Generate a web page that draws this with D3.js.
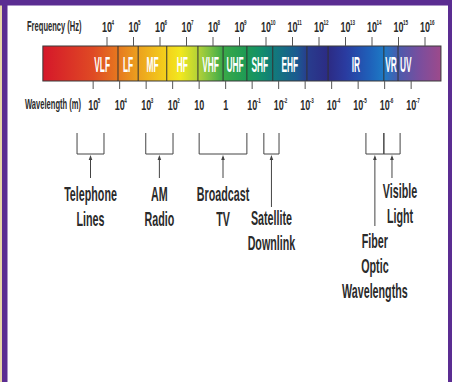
<!DOCTYPE html>
<html>
<head>
<meta charset="utf-8">
<script src="https://cdn.jsdelivr.net/npm/d3@7"></script>
<style>
body { margin: 0; background: #fff; }
svg { display: block; }
</style>
</head>
<body>
<div id="chart"></div>
<script>
// band edges (Hz) and band names
var bandEdges = [38, 2.6e4, 1.5e5, 1.8e6, 2.7e7, 2.4e8, 1.9e9, 1.8e10, 3.5e11, 2.2e12, 2.8e14, 9.6e14, 4e16];
var bandNames = ["VLF", "LF", "MF", "HF", "VHF", "UHF", "SHF", "EHF", "", "IR", "VR", "UV"];

// tick exponents
var freqExponents = [4, 5, 6, 7, 8, 9, 10, 11, 12, 13, 14, 15, 16];
var waveExponents = [5, 4, 3, 2, 1, 0, -1, -2, -3, -4, -5, -6, -7];

// uses, with their frequency ranges (Hz)
var useNames = [["Telephone", "Lines"], ["AM", "Radio"], ["Broadcast", "TV"],
                ["Satellite", "Downlink"], ["Fiber", "Optic", "Wavelengths"], ["Visible", "Light"]];
var useRanges = [[7.4e2, 7.7e3], [2.9e5, 3.1e6], [3e7, 1.9e9],
                 [8.3e9, 3.1e10], [5.9e13, 2.8e14], [2.8e14, 1.15e15]];

var SPEED_OF_LIGHT = 3e8;

var width = 452, height = 382;
var barTop = 46, barBottom = 81;
var font = "'Liberation Sans', Arial, sans-serif";
var ink = "#2b2b2b";

var svg = d3.select("#chart").append("svg")
    .attr("width", width)
    .attr("height", height);

var x = d3.scaleLog().domain([1e4, 1e16]).range([107, 425]);
var xWave = function(lambda) { return x(SPEED_OF_LIGHT / lambda); };

// frame
svg.append("rect").attr("x", 0).attr("y", 0).attr("width", width).attr("height", height).attr("fill", "#fff");
svg.append("rect").attr("x", 0).attr("y", 0).attr("width", 2.5).attr("height", height).attr("fill", "#e8d6a6");
svg.append("rect").attr("x", 2).attr("y", 0).attr("width", 5.5).attr("height", height).attr("fill", "#5b2d92");
svg.append("rect").attr("x", 448).attr("y", 0).attr("width", 4).attr("height", height).attr("fill", "#5b2d92");
svg.append("rect").attr("x", 0).attr("y", 0).attr("width", width).attr("height", 5.5).attr("fill", "#5b2d92");

function squeezed(g, px, py, str, size, sx, anchor, fill) {
    return g.append("text")
        .attr("transform", "translate(" + px + "," + py + ") scale(" + sx + ",1)")
        .attr("text-anchor", anchor)
        .style("font-family", font)
        .style("font-weight", "bold")
        .style("font-size", size + "px")
        .attr("fill", fill || ink)
        .text(str);
}

// spectrum gradient
var gradStops = [
    [38, "#d5172a"], [3e3, "#df4a24"], [2.6e4, "#e6781f"], [1.5e5, "#eca11e"],
    [1.8e6, "#f4d11b"], [6e6, "#f1e81f"], [2.7e7, "#b4d236"], [8e7, "#79c043"],
    [2.4e8, "#3aa948"], [1.9e9, "#1d9a55"], [6e9, "#14906a"], [1.8e10, "#117c7a"],
    [1.5e11, "#1b5a91"], [3.5e11, "#283d8e"], [2.2e12, "#2c2b84"], [1e13, "#2a3ba0"],
    [8e13, "#1f60b9"], [2.8e14, "#1d7ac5"], [9.6e14, "#4a5bad"], [6e15, "#794e9e"], [4e16, "#9d4a8b"]
];
var grad = svg.append("defs").append("linearGradient")
    .attr("id", "spectrum")
    .attr("gradientUnits", "userSpaceOnUse")
    .attr("x1", x(bandEdges[0])).attr("x2", x(bandEdges[bandEdges.length - 1]))
    .attr("y1", 0).attr("y2", 0);
var x0 = x(bandEdges[0]), x1 = x(bandEdges[bandEdges.length - 1]);
grad.selectAll("stop").data(gradStops).enter().append("stop")
    .attr("offset", function(d) { return (x(d[0]) - x0) / (x1 - x0); })
    .attr("stop-color", function(d) { return d[1]; });

svg.append("rect")
    .attr("x", x0).attr("y", barTop)
    .attr("width", x1 - x0).attr("height", barBottom - barTop)
    .attr("fill", "url(#spectrum)")
    .attr("stroke", "#3a3a3a").attr("stroke-width", 1);

svg.selectAll(".sep")
    .data(bandEdges.slice(1, -1))
    .enter().append("line")
    .attr("class", "sep")
    .attr("x1", function(d) { return x(d); }).attr("x2", function(d) { return x(d); })
    .attr("y1", barTop).attr("y2", barBottom)
    .attr("stroke", "#333").attr("stroke-width", 1);

// band labels
var bands = svg.append("g");
bandNames.forEach(function(name, i) {
    if (!name) return;
    var a = x(bandEdges[i]), b = x(bandEdges[i + 1]);
    var px = (a + b) / 2, anchor = "middle";
    if (name === "VLF") { px = b - 8; anchor = "end"; }
    if (name === "UV") { px = a + 2; anchor = "start"; }
    squeezed(bands, px, 72, name, 22, 0.38, anchor, "#fff");
});

// frequency axis
var fAxis = svg.append("g");
fAxis.selectAll("line")
    .data(freqExponents).enter().append("line")
    .attr("x1", function(d) { return x(Math.pow(10, d)); })
    .attr("x2", function(d) { return x(Math.pow(10, d)); })
    .attr("y1", 37).attr("y2", barTop)
    .attr("stroke", "#555").attr("stroke-width", 1);
freqExponents.forEach(function(e) {
    var px = x(Math.pow(10, e));
    squeezed(fAxis, px, 32, "10", 15, 0.6, "middle");
    squeezed(fAxis, px + 4.5, 25, String(e), 6.5, 0.7, "start");
});
squeezed(svg, 27, 31, "Frequency (Hz)", 14, 0.54, "start");

// wavelength axis
var wAxis = svg.append("g");
wAxis.selectAll("line")
    .data(waveExponents).enter().append("line")
    .attr("x1", function(d) { return xWave(Math.pow(10, d)); })
    .attr("x2", function(d) { return xWave(Math.pow(10, d)); })
    .attr("y1", barBottom).attr("y2", 89)
    .attr("stroke", "#555").attr("stroke-width", 1);
waveExponents.forEach(function(e) {
    var px = xWave(Math.pow(10, e));
    if (e === 0) {
        squeezed(wAxis, px, 110, "1", 15, 0.6, "middle");
    } else if (e === 1) {
        squeezed(wAxis, px, 110, "10", 15, 0.6, "middle");
    } else {
        squeezed(wAxis, px, 110, "10", 15, 0.6, "middle");
        squeezed(wAxis, px + 4.5, 103, String(e), 6.5, 0.7, "start");
    }
});
squeezed(svg, 25, 109, "Wavelength (m)", 14, 0.54, "start");

// uses: brackets, arrows, labels
var tierOf = { "Satellite": 1, "Fiber": 2, "Visible": 3 };
var tierArrowEnd = [178, 207, 226, 178];
var tierBaseline = [201, 225, 248, 198];
var tierShift = [0, 0, 0, 8];
var lineStep = 25;
var bracketTop = 133, bracketBottom = 154;

var notes = svg.append("g");
useNames.forEach(function(lines, i) {
    var a = x(useRanges[i][0]), b = x(useRanges[i][1]);
    var mid = (a + b) / 2;
    var tier = tierOf[lines[0]] || 0;
    notes.append("path")
        .attr("d", "M" + a + "," + bracketTop + "V" + bracketBottom + "H" + b + "V" + bracketTop)
        .attr("fill", "none").attr("stroke", "#444").attr("stroke-width", 1);
    notes.append("line")
        .attr("x1", mid).attr("x2", mid)
        .attr("y1", bracketBottom + 3).attr("y2", tierArrowEnd[tier])
        .attr("stroke", "#444").attr("stroke-width", 1);
    notes.append("path")
        .attr("d", "M" + mid + "," + (bracketBottom + 1) + "L" + (mid - 1.8) + "," + (bracketBottom + 6) +
                   "L" + (mid + 1.8) + "," + (bracketBottom + 6) + "Z")
        .attr("fill", "#444");
    lines.forEach(function(str, k) {
        squeezed(notes, mid + tierShift[tier], tierBaseline[tier] + k * lineStep, str, 19.5, 0.55, "middle");
    });
});
</script>
</body>
</html>
